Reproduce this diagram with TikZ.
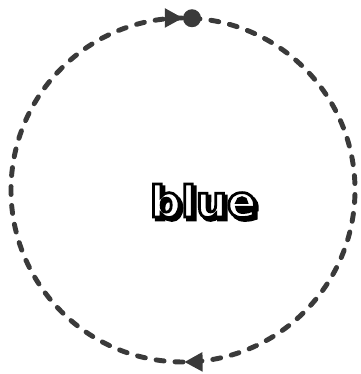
\documentclass[tikz,border=0pt]{standalone}
\usepackage{fontspec}
\setsansfont{DejaVu Sans}
\usepackage{xcolor}
\usepackage{tikz}
\usetikzlibrary{arrows.meta, calc, decorations.markings}
\definecolor{kgray}{HTML}{3A3A3A}
\newcommand{\rimtext}[2]{{\color{#1}\special{pdf:code 2 Tr 2 w 0 0 0 RG}#2\special{pdf:code 0 Tr}}}

\begin{document}
\begin{tikzpicture}[x=1cm, y=1cm]
\useasboundingbox (0,0) rectangle (9,9.35);
\tikzset{
  loopline/.style={draw=kgray, line width=3.5pt, line cap=round, dash pattern=on 5.7pt off 7.8pt},
  looptip/.style={decoration={markings,
    mark=at position 0.4905 with {\arrow{Triangle[length=13pt, width=13pt]}},
    mark=at position 0.9917 with {\arrow{Triangle[length=13pt, width=13pt]}}},
    postaction={decorate}},
  wordlabel/.style={font=\fontsize{31}{31}\selectfont\sffamily\bfseries}
}
\coordinate (centre) at (4.575,4.6);
\coordinate (start) at ($(centre)+(87:4.3)$);
\draw[loopline, looptip, kgray] (start) arc[start angle=87, end angle=-273, radius=4.3];
\fill[kgray] (start) circle (6.4pt);
\node[wordlabel] (shade) at (5.15,4.26) {\rimtext{black}{blue}};
\node[wordlabel] (word) at (5.08,4.33) {\rimtext{white}{blue}};
\end{tikzpicture}
\end{document}
